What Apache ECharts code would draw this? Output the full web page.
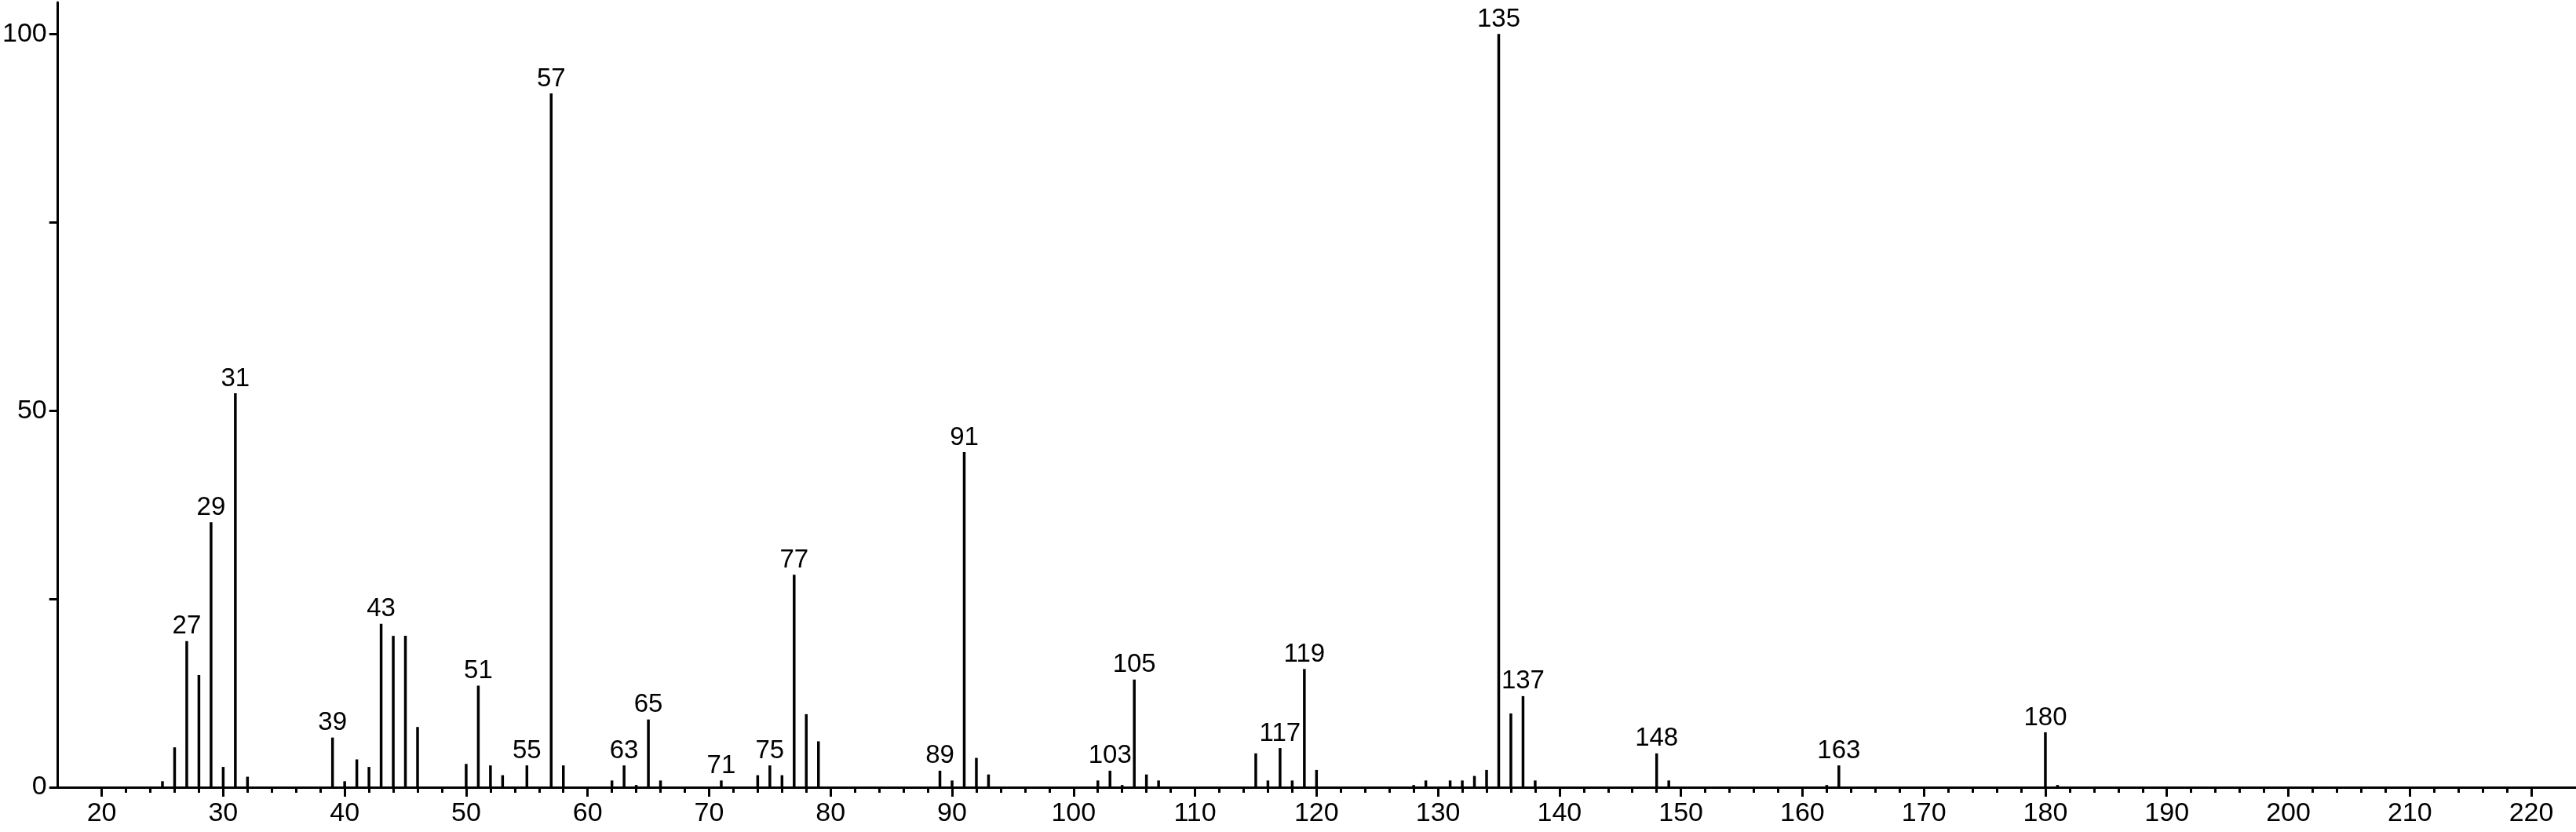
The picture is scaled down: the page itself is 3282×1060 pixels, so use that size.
<!DOCTYPE html>
<html>
<head>
<meta charset="utf-8">
<script src="https://cdn.jsdelivr.net/npm/echarts@6/dist/echarts.min.js"></script>
<style>
  html, body { margin: 0; padding: 0; background: #fff; }
  #chart { width: 3282px; height: 1060px; }
</style>
</head>
<body>
<div id="chart"></div>
<script>
// m/z values of the peaks
const mz = [25, 26, 27, 28, 29, 30, 31, 32, 39, 40, 41, 42, 43, 44, 45, 46,
  50, 51, 52, 53, 55, 57, 58, 62, 63, 64, 65, 66, 71, 74, 75, 76, 77, 78, 79,
  89, 90, 91, 92, 93, 102, 103, 104, 105, 106, 107, 115, 116, 117, 118, 119, 120,
  128, 129, 131, 132, 133, 134, 135, 136, 137, 138, 148, 149, 162, 163, 180, 181];
// relative intensities (%)
const intensity = [0.8, 5.3, 19.4, 14.9, 35.2, 2.7, 52.3, 1.4, 6.6, 0.8, 3.7, 2.7, 21.7, 20.1, 20.1, 8.0,
  3.1, 13.5, 2.9, 1.6, 2.9, 92.1, 2.9, 0.9, 2.9, 0.3, 9.0, 0.9, 0.9, 1.6, 2.9, 1.6, 28.2, 9.7, 6.1,
  2.2, 0.9, 44.5, 3.9, 1.7, 0.9, 2.2, 0.3, 14.3, 1.7, 0.9, 4.5, 0.9, 5.2, 0.9, 15.7, 2.3,
  0.3, 0.9, 0.9, 0.9, 1.5, 2.3, 100, 9.8, 12.1, 0.9, 4.5, 0.9, 0.3, 2.9, 7.3, 0.3];
// peaks that carry a label
const labeledPeaks = [27, 29, 31, 39, 43, 51, 55, 57, 63, 65, 71, 75, 77, 89, 91, 103, 105,
  117, 119, 135, 137, 148, 163, 180];
// axis tick values
const xMajorTicks = [20, 30, 40, 50, 60, 70, 80, 90, 100, 110, 120, 130, 140, 150, 160, 170, 180, 190, 200, 210, 220];
const xMinorTicks = [22, 24, 26, 28, 32, 34, 36, 38, 42, 44, 46, 48, 52, 54, 56, 58, 62, 64, 66, 68,
  72, 74, 76, 78, 82, 84, 86, 88, 92, 94, 96, 98, 102, 104, 106, 108, 112, 114, 116, 118,
  122, 124, 126, 128, 132, 134, 136, 138, 142, 144, 146, 148, 152, 154, 156, 158,
  162, 164, 166, 168, 172, 174, 176, 178, 182, 184, 186, 188, 192, 194, 196, 198,
  202, 204, 206, 208, 212, 214, 216, 218];
const yTicks = [0, 25, 50, 75, 100];
const yLabels = [0, 50, 100];

const FONT = 'Liberation Sans, Arial, sans-serif';
const X_MIN = 16.39, X_MAX = 223.68;

const chart = echarts.init(document.getElementById('chart'), null, { renderer: 'canvas' });

const seriesData = mz.map((m, i) => ({
  value: [m, intensity[i]],
  label: { show: labeledPeaks.includes(m) }
}));

chart.setOption({
  animation: false,
  backgroundColor: '#ffffff',
  grid: { left: 69, right: 0, top: 3, bottom: 57, containLabel: false },
  xAxis: [
    {
      type: 'value', min: X_MIN, max: X_MAX, position: 'bottom',
      axisLine: { show: true, onZero: false, lineStyle: { color: '#000', width: 3 } },
      axisTick: { show: true, customValues: xMajorTicks, length: 12, lineStyle: { color: '#000', width: 3 } },
      axisLabel: { show: true, customValues: xMajorTicks, color: '#000', fontSize: 34, fontFamily: FONT, margin: 17 },
      splitLine: { show: false }
    },
    {
      type: 'value', min: X_MIN, max: X_MAX, position: 'bottom',
      axisLine: { show: false, onZero: false },
      axisTick: { show: true, customValues: xMinorTicks, length: 7, lineStyle: { color: '#000', width: 3 } },
      axisLabel: { show: false, customValues: xMinorTicks },
      splitLine: { show: false }
    }
  ],
  yAxis: {
    type: 'value', min: 0, max: 104.2,
    axisLine: { show: true, lineStyle: { color: '#000', width: 3 } },
    axisTick: { show: true, customValues: yTicks, length: 11, lineStyle: { color: '#000', width: 3 } },
    axisLabel: { show: true, customValues: yLabels, color: '#000', fontSize: 34, fontFamily: FONT, margin: 14 },
    splitLine: { show: false }
  },
  series: [{
    type: 'bar',
    xAxisIndex: 0,
    barWidth: 3.5,
    itemStyle: { color: '#000' },
    label: {
      position: 'top', distance: 2, color: '#000', fontSize: 33, fontFamily: FONT,
      formatter: p => String(p.value[0])
    },
    data: seriesData
  }]
});
</script>
</body>
</html>
